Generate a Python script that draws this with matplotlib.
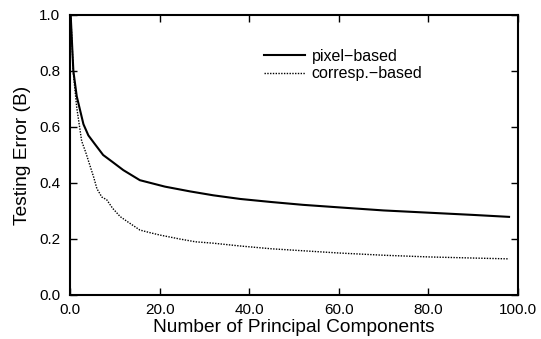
import matplotlib
matplotlib.use("Agg")
import matplotlib.pyplot as plt

plt.rcParams['font.family'] = ['Liberation Sans', 'DejaVu Sans']

# number of principal components
pc_pixel = [0.15, 0.75, 1.5, 3.0, 4.1, 5.5, 7.4, 9.5, 11.9, 15.6, 21.2, 26.8, 32, 38, 45, 52, 60, 70, 80, 90, 98]
err_pixel = [1.0, 0.80, 0.71, 0.61, 0.57, 0.54, 0.50, 0.475, 0.446, 0.41, 0.387, 0.37, 0.356, 0.343, 0.332, 0.322, 0.313, 0.302, 0.294, 0.286, 0.279]

pc_corr = [0.15, 0.37, 0.75, 1.5, 2.6, 3.5, 4.5, 5.3, 6.0, 7.1, 8.2, 9.5, 11.2, 13.0, 15.6, 18.0, 20.1, 24.5, 28, 32, 38, 45, 52, 60, 70, 80, 90, 98]
err_corr = [1.0, 0.93, 0.79, 0.67, 0.55, 0.51, 0.46, 0.42, 0.38, 0.35, 0.34, 0.31, 0.28, 0.26, 0.232, 0.222, 0.214, 0.20, 0.19, 0.185, 0.175, 0.165, 0.158, 0.15, 0.142, 0.136, 0.132, 0.129]

fig = plt.figure(figsize=(5.41, 3.39), dpi=100)
ax = fig.add_axes([70/541, 1-295/339, 448/541, 280/339])

ax.plot(pc_pixel, err_pixel, color='black', lw=1.5, label='pixel\u2212based')
ax.plot(pc_corr, err_corr, color='black', lw=1.0, linestyle=(0, (1, 1)), label='corresp.\u2212based')

ax.set_xlim(0, 100)
ax.set_ylim(0, 1.0)
ax.set_xticks([0, 20, 40, 60, 80, 100])
ax.set_xticklabels(['0.0', '20.0', '40.0', '60.0', '80.0', '100.0'])
ax.set_yticks([0, 0.2, 0.4, 0.6, 0.8, 1.0])
ax.set_yticklabels(['0.0', '0.2', '0.4', '0.6', '0.8', '1.0'])
ax.tick_params(direction='in', top=True, right=True, length=5, width=1, labelsize=11)
ax.tick_params(axis='x', pad=6)
ax.tick_params(axis='y', pad=7)
for s in ax.spines.values():
    s.set_linewidth(1.5)

ax.set_xlabel('Number of Principal Components', fontsize=13.75, labelpad=1)
ax.set_ylabel('Testing Error (B)', fontsize=13.75, labelpad=6)

ax.legend(loc='upper left', bbox_to_anchor=(0.40, 0.93), frameon=False, fontsize=11.5,
          handlelength=2.6, handletextpad=0.4, labelspacing=0.15)

fig.savefig('out.png', dpi=100)
